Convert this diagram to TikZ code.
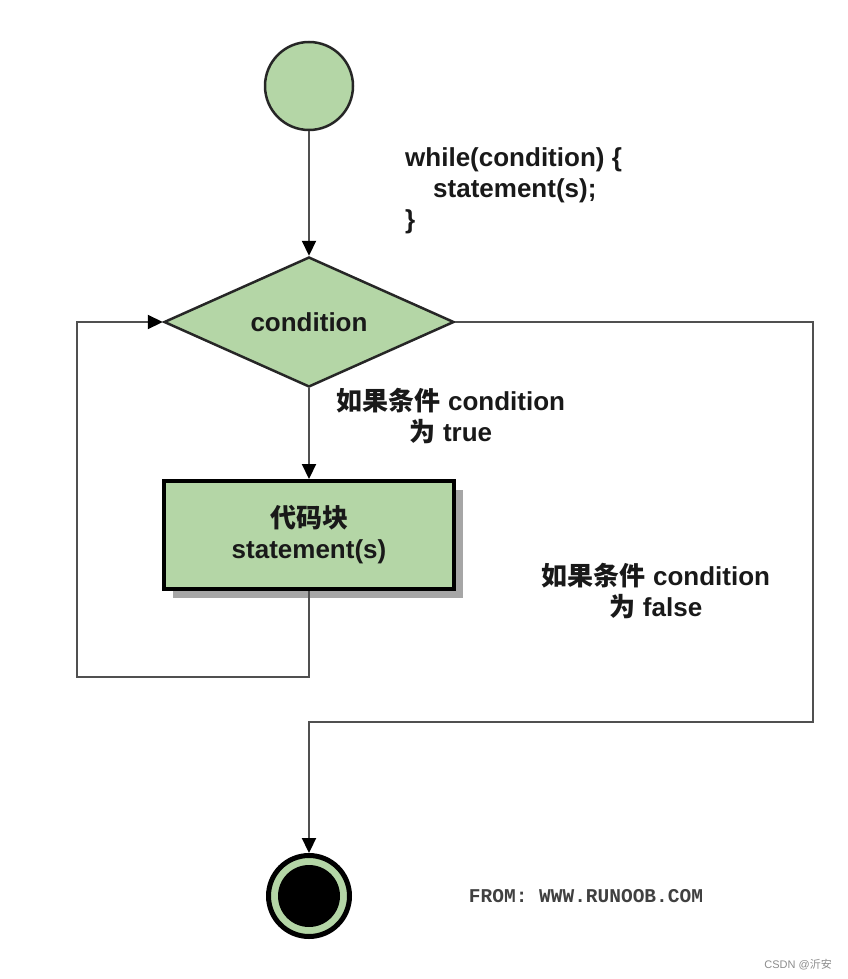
\documentclass[tikz,border=0pt]{standalone}
\usepackage{fontspec}
\setmainfont{Liberation Sans}
\setmonofont{Liberation Mono}
\newfontfamily\cjk{Noto Sans CJK SC}
\usetikzlibrary{shapes.geometric,arrows.meta,shadows}
\definecolor{blockgreen}{RGB}{180,214,166}
\definecolor{linegray}{RGB}{80,80,80}
\newcommand{\labelfont}{\fontsize{26}{31}\selectfont\bfseries}

\begin{document}
\begin{tikzpicture}[x=1pt, y=-1pt,
    flow/.style={draw=linegray, line width=2.2pt,
      -{Triangle[width=14pt, length=15pt, color=black]}},
    txt/.style={font=\labelfont, align=center, text=black!90}]
  \useasboundingbox (0, 0) rectangle (847, 979);

  % start, test, body, stop
  \node [circle, draw=black!85, line width=2.5pt, fill=blockgreen,
    minimum size=88pt, inner sep=0pt] (start) at (309, 86) {};
  \node [diamond, draw=black!85, line width=2.5pt, fill=blockgreen,
    minimum width=290pt, minimum height=130pt, aspect=2.23,
    inner sep=0pt, txt] (cond) at (309, 322) {condition};
  \node [rectangle, draw=black, line width=4pt, fill=blockgreen,
    minimum width=290pt, minimum height=108pt, txt,
    drop shadow={shadow xshift=9pt, shadow yshift=-9pt,
      fill=black!35, opacity=1}] (body) at (309, 535)
    {{\cjk 代码块}\\statement(s)};
  \node [circle, draw=black, line width=5pt, fill=blockgreen,
    minimum size=81pt, inner sep=0pt] (stop) at (309, 896) {};
  \node [circle, fill=black, minimum size=62pt, inner sep=0pt]
    (stopcore) at (stop.center) {};

  % texts
  \node [txt, anchor=west, align=left, inner sep=0pt] (code) at (405, 191)
    {while(condition) \{\\\hspace{28pt}statement(s);\\\}};
  \node [txt] (yes) at (451, 416) {{\cjk 如果条件} condition\\{\cjk 为} true};
  \node [txt] (no) at (656, 591) {{\cjk 如果条件} condition\\{\cjk 为} false};
  \node [font=\ttfamily\bfseries\fontsize{19.5}{22}\selectfont,
    text=black!75] (from) at (586, 896) {FROM: WWW.RUNOOB.COM};
  \node [anchor=east, inner sep=0pt, text=black!45,
    font=\fontsize{11}{13}\selectfont] (mark) at (832, 965)
    {CSDN @{\cjk 沂安}};

  % connectors
  \coordinate (backbl) at (77, 677);
  \coordinate (exitbr) at (813, 722);
  \draw [flow] (start) -- (cond);
  \draw [flow] (cond) -- (body);
  \draw [flow] (body.south) |- (backbl) |- (cond.west);
  \draw [flow] (cond.east) -| (exitbr) -| (stop.north);
\end{tikzpicture}
\end{document}
